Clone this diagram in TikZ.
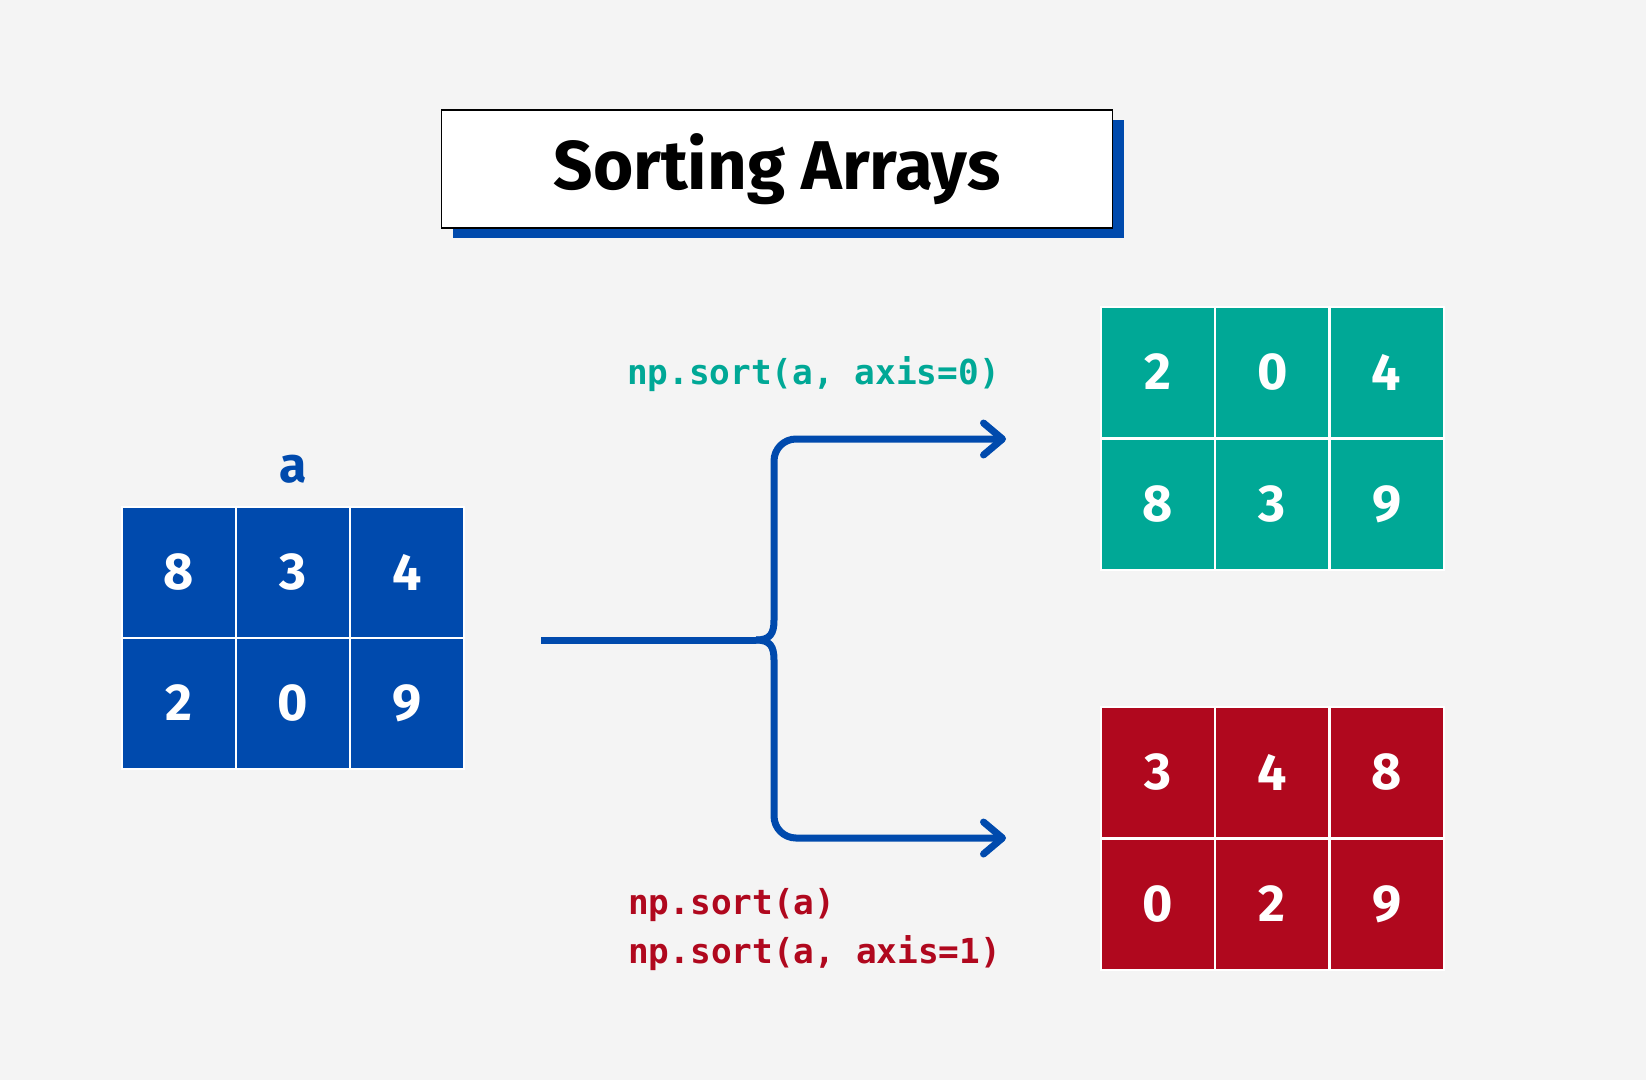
\documentclass[tikz,border=0pt]{standalone}
\usepackage{fontspec}
\setmainfont{Fira Sans}
\setmonofont{DejaVu Sans Mono}
\usetikzlibrary{positioning,arrows.meta,calc,shadows}
\definecolor{abblue}{HTML}{004AAD}
\definecolor{abgreen}{HTML}{00A896}
\definecolor{abred}{HTML}{B0081E}
\definecolor{abbg}{HTML}{F4F4F4}
\tikzset{
  cell/.style={draw=white,line width=2pt,minimum width=114pt,minimum height=131pt,
               inner sep=0pt,text=white,font=\fontsize{52}{52}\selectfont\bfseries},
  conn/.style={abblue,line width=7pt},
  arr/.style={-{Straight Barb[length=19pt,width=32pt,line cap=round,line join=round]}},
  code/.style={font=\fontsize{34.4}{49}\selectfont\ttfamily\bfseries,inner sep=0pt},
}

\begin{document}
\begin{tikzpicture}[x=1pt,y=-1pt,
  title/.style={draw=black,line width=1.2pt,fill=white,minimum width=671pt,minimum height=118pt,
                font=\fontsize{69}{69}\selectfont\bfseries,
                drop shadow={shadow xshift=11pt,shadow yshift=-10pt,fill=abblue,opacity=1}},
  lbl/.style={font=\fontsize{50}{50}\selectfont\bfseries,inner sep=0pt}]
\fill[abbg] (0,0) rectangle (1646,1080);
\useasboundingbox (0,0) rectangle (1646,1080);

\node[title] (ttl) at (777,169) {Sorting Arrays};

% input array
\foreach \v [count=\i from 0] in {8,3,4,2,0,9}
  \node[cell,fill=abblue] (a-\i) at ({179+114*mod(\i,3)},{572+131*int(\i/3)}) {\v};
\node[lbl,text=abblue,above=22pt of a-1] (lbl-a) {a};

% sorted along axis 0
\foreach \v [count=\i from 0] in {2,0,4,8,3,9}
  \node[cell,fill=abgreen] (g-\i) at ({1158+114.3*mod(\i,3)},{372+132*int(\i/3)}) {\v};

% sorted along axis 1
\foreach \v [count=\i from 0] in {3,4,8,0,2,9}
  \node[cell,fill=abred] (r-\i) at ({1158+114.3*mod(\i,3)},{772+132*int(\i/3)}) {\v};

\coordinate (src) at (541,640);
\coordinate (fork) at (774,640);
\coordinate (up-end) at (1006,439);
\coordinate (dn-end) at (1006,838);

\draw[conn] (src) -- ($(fork)+(-18,0)$);
\draw[conn,arr] ($(fork)+(-18,0)$) .. controls ($(fork)+(-4,0)$) and ($(fork)+(0,-6)$) ..
  ($(fork)+(0,-20)$) [rounded corners=22pt] |- (up-end);
\draw[conn,arr] ($(fork)+(-18,0)$) .. controls ($(fork)+(-4,0)$) and ($(fork)+(0,6)$) ..
  ($(fork)+(0,20)$) [rounded corners=22pt] |- (dn-end);

\node[code,text=abgreen,anchor=base east] (ax0) at (1000,384) {np.sort(a, axis=0)};
\node[code,text=abred,align=left,anchor=north west] (ax1) at (628,888) {np.sort(a)\\np.sort(a, axis=1)};
\end{tikzpicture}
\end{document}
